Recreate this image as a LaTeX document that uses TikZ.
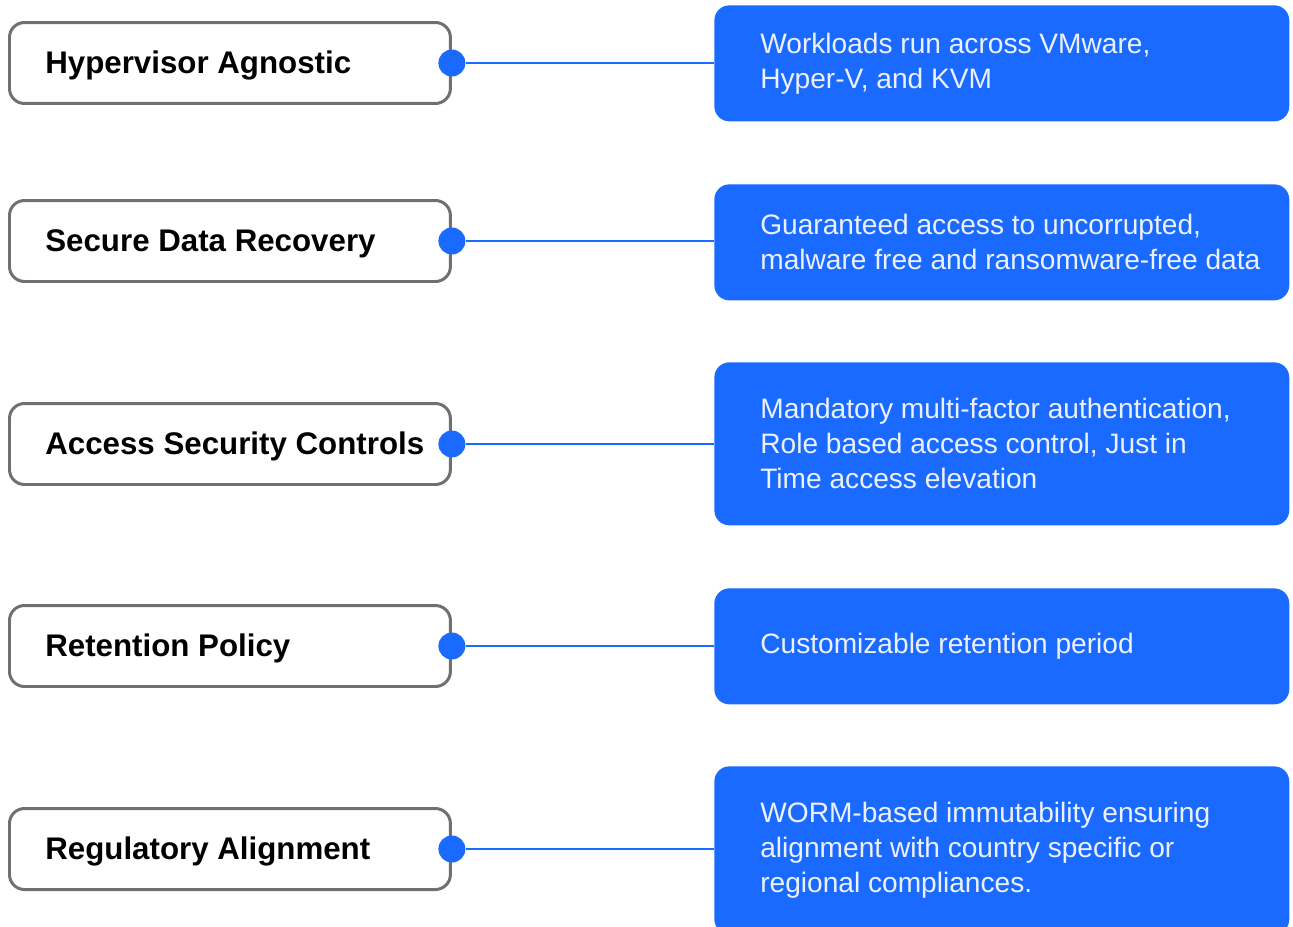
\documentclass[tikz,border=0pt]{standalone}
\usepackage{fontspec}
\setmainfont{Liberation Sans}
\usepackage{tikz}
\usetikzlibrary{positioning}
\definecolor{FrameGray}{RGB}{112,112,112}
\definecolor{BrandBlue}{RGB}{26,106,255}
\definecolor{SoftWhite}{RGB}{236,241,255}

\tikzset{
  featbox/.style={draw=FrameGray, line width=1.7pt, rounded corners=0.3cm, fill=white,
    minimum width=8.82cm, minimum height=1.62cm, inner sep=0pt, anchor=west},
  feattext/.style={inner sep=0pt, anchor=west, yshift=-0.05cm, font=\fontsize{17.8}{21}\selectfont\bfseries},
  descbox/.style={fill=BrandBlue, rounded corners=0.3cm, minimum width=11.5cm,
    inner sep=0pt, anchor=north west},
  desctext/.style={inner sep=0pt, anchor=west, align=left, text=SoftWhite,
    font=\fontsize{16}{19.9}\selectfont},
  joint/.style={circle, fill=BrandBlue, minimum size=0.54cm, inner sep=0pt},
  link/.style={draw=BrandBlue, line width=1.4pt}
}

\begin{document}
\begin{tikzpicture}[x=0.02cm, y=-0.02cm]
  \useasboundingbox (0,0) rectangle (1293,926);

  % Feature boxes on the left
  \foreach \n/\y/\t in {hyp/63/Hypervisor Agnostic, sec/241/Secure Data Recovery,
      acc/444/Access Security Controls, ret/646/Retention Policy, reg/849/Regulatory Alignment}{
    \node[featbox] (\n) at (8,\y) {};
    \node[feattext, right=0.74cm of \n.west] (\n-label) {\t};
    \node[joint] (\n-dot) at (\n.east) {};
  }

  % Description boxes on the right
  \foreach \n/\y/\h/\t in {
      hyp/5/2.32/{Workloads run across VMware,\\Hyper-V, and KVM},
      sec/184/2.32/{Guaranteed access to uncorrupted,\\malware free and ransomware-free data},
      acc/362/3.26/{Mandatory multi-factor authentication,\\Role based access control, Just in\\Time access elevation},
      ret/588/2.32/{Customizable retention period},
      reg/766/3.36/{WORM-based immutability ensuring\\alignment with country specific or\\regional compliances.}}{
    \node[descbox, minimum height=\h cm] (\n-desc) at (714,\y) {};
    \node[desctext, right=0.92cm of \n-desc.west] (\n-text) {\t};
  }

  % Connectors
  \foreach \n in {hyp,sec,acc,ret,reg}{
    \draw[link] (\n-dot) -- (\n-dot -| \n-desc.west);
  }
\end{tikzpicture}
\end{document}
